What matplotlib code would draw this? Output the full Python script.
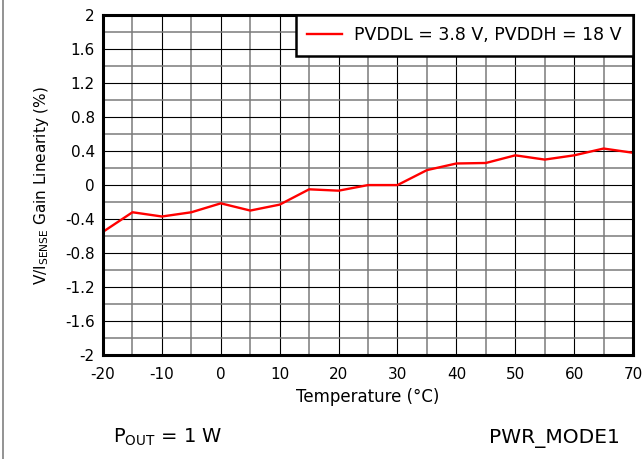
import numpy as np
import matplotlib
matplotlib.use('Agg')
import matplotlib.pyplot as plt
from matplotlib.lines import Line2D

plt.rcParams['font.family'] = ['DejaVu Sans']
plt.rcParams['axes.unicode_minus'] = False

# temperature sweep and measured gain linearity
temperature = [-20, -15, -10, -5, 0, 5, 10, 15, 20, 25, 30, 35, 40, 45, 50, 55, 60, 65, 70]
linearity = [-0.55, -0.32, -0.37, -0.32, -0.215, -0.30, -0.23, -0.05, -0.066, 0.0,
             0.0, 0.176, 0.254, 0.26, 0.35, 0.30, 0.35, 0.43, 0.38]
series_label = 'PVDDL = 3.8 V, PVDDH = 18 V'

x_ticks = [-20, -10, 0, 10, 20, 30, 40, 50, 60, 70]
y_ticks = [-2, -1.6, -1.2, -0.8, -0.4, 0, 0.4, 0.8, 1.2, 1.6, 2]
y_tick_labels = ['-2', '-1.6', '-1.2', '-0.8', '-0.4', '0', '0.4', '0.8', '1.2', '1.6', '2']

fig = plt.figure(figsize=(6.44, 4.59), dpi=100)
ax = fig.add_axes([0.16, 0.2266, 0.823, 0.7404])

ax.plot(temperature, linearity, color='#ff0000', lw=1.7, label=series_label, zorder=3)

ax.set_xlim(-20, 70)
ax.set_ylim(-2, 2)
ax.set_xticks(x_ticks)
ax.set_xticklabels([str(t) for t in x_ticks])
ax.set_xticks(np.arange(-15, 70, 10), minor=True)
ax.set_yticks(y_ticks)
ax.set_yticklabels(y_tick_labels)
ax.set_yticks(np.arange(-1.8, 2.0, 0.4), minor=True)
ax.grid(which='major', color='black', lw=0.8)
ax.grid(which='minor', color='#7a7a7a', lw=1.1)
ax.tick_params(which='both', length=0, labelsize=11)
ax.tick_params(axis='x', pad=9)
ax.tick_params(axis='y', pad=6)
for s in ax.spines.values():
    s.set_linewidth(2.2)
    s.set_zorder(4)

ax.set_xlabel('Temperature (°C)', fontsize=12, labelpad=4)
ax.set_ylabel(r'V/I$_{\mathrm{SENSE}}$ Gain Linearity (%)', fontsize=11, labelpad=10)

leg = ax.legend(loc='upper right', fontsize=12.5, fancybox=False, framealpha=1,
                edgecolor='black', borderaxespad=0, handlelength=2.0,
                borderpad=0.65, handletextpad=0.7)
leg.get_frame().set_linewidth(1.8)
leg.set_zorder(5)

fig.text(0.175, 0.035, r'P$_{\mathrm{OUT}}$ = 1 W', fontsize=14, ha='left')
fig.text(0.963, 0.035, 'PWR_MODE1', fontsize=14.5, ha='right')
fig.add_artist(Line2D([0.005, 0.005], [0, 1], color='#808080', lw=1.2,
                      transform=fig.transFigure))

fig.savefig('out.png', dpi=100)
